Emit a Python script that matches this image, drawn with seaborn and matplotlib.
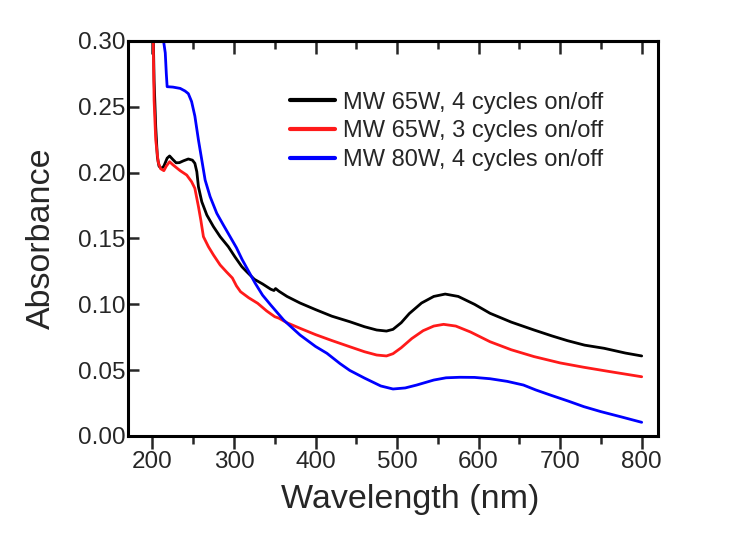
import matplotlib
matplotlib.use("Agg")
import matplotlib.pyplot as plt
from matplotlib.ticker import MultipleLocator, FormatStrFormatter
import seaborn as sns
import pandas as pd

labels = ["MW 65W, 4 cycles on/off", "MW 65W, 3 cycles on/off", "MW 80W, 4 cycles on/off"]
colors = ["#000000", "#ff1a1a", "#0000ff"]

wl_black = [200, 202, 204, 206, 208, 211, 214, 218, 221, 225, 229, 233, 238, 244, 249, 252, 254.4, 256.4,
            260.5, 266.7, 274.8, 283, 293, 301, 309.6, 316, 325, 335, 345, 349, 351, 355, 365, 381, 400,
            420, 442, 460, 475, 487, 495, 505, 515, 530, 545, 559, 575, 595, 614, 640, 668, 690, 709, 730,
            754, 780, 800]
ab_black = [0.34, 0.27, 0.235, 0.212, 0.205, 0.203, 0.205, 0.211, 0.2127, 0.210, 0.2075, 0.2076, 0.209,
            0.2104, 0.2095, 0.2071, 0.2007, 0.1893, 0.1779, 0.1678, 0.159, 0.1514, 0.1438, 0.1362, 0.1286,
            0.1245, 0.119, 0.1155, 0.1115, 0.1105, 0.112, 0.110, 0.106, 0.101, 0.096, 0.091, 0.0868, 0.083,
            0.0805, 0.0797, 0.081, 0.086, 0.093, 0.101, 0.106, 0.1078, 0.106, 0.100, 0.0932, 0.0865, 0.0805,
            0.076, 0.0724, 0.069, 0.0666, 0.063, 0.0608]

wl_red = [200, 202, 204, 207, 210, 214, 217, 221, 225, 234, 242, 248, 252, 256.4, 259.3, 262.5, 268.6,
          274.8, 283, 291, 298, 303, 308, 318, 329, 340, 350, 355, 365, 381, 400, 420, 442, 460, 475, 487,
          495, 505, 518, 532, 545, 557, 572, 590, 614, 640, 668, 700, 729, 760, 800]
ab_red = [0.34, 0.255, 0.225, 0.208, 0.203, 0.2015, 0.205, 0.2083, 0.206, 0.2015, 0.1982, 0.1931, 0.1881,
          0.1742, 0.164, 0.1514, 0.1438, 0.1375, 0.1299, 0.1245, 0.120, 0.114, 0.1096, 0.105, 0.1008,
          0.095, 0.0906, 0.0895, 0.086, 0.0818, 0.077, 0.0725, 0.0678, 0.064, 0.0615, 0.0608, 0.0625,
          0.067, 0.074, 0.080, 0.0835, 0.0848, 0.0835, 0.079, 0.0716, 0.0655, 0.0603, 0.0555, 0.0522,
          0.049, 0.045]

wl_blue = [212, 213.6, 215.7, 217, 218, 225, 234, 240, 244, 248, 252, 256.4, 260.5, 264.6, 270.7, 278.9,
           287, 295.2, 303, 310, 318, 326, 335, 345, 361, 381, 400, 414, 430, 442, 460, 480, 495, 510, 524,
           545, 560, 577, 595, 614, 635, 655, 670, 688, 710, 729, 750, 775, 800]
ab_blue = [0.33, 0.30, 0.291, 0.275, 0.2653, 0.265, 0.264, 0.262, 0.260, 0.254, 0.243, 0.2248, 0.2096,
           0.1944, 0.1818, 0.1691, 0.1602, 0.1514, 0.143, 0.134, 0.125, 0.116, 0.107, 0.0995, 0.088,
           0.0767, 0.068, 0.0628, 0.055, 0.0498, 0.044, 0.038, 0.0357, 0.0365, 0.0387, 0.0425, 0.0442,
           0.0446, 0.0445, 0.0435, 0.0415, 0.0387, 0.035, 0.0311, 0.0265, 0.0223, 0.0185, 0.0145, 0.0104]

frames = []
for lab, wl, ab in zip(labels, [wl_black, wl_red, wl_blue], [ab_black, ab_red, ab_blue]):
    frames.append(pd.DataFrame({"Wavelength": wl, "Absorbance": ab, "Sample": lab}))
df = pd.concat(frames, ignore_index=True)

sns.set_style("ticks")
plt.rcParams["font.family"] = ["Liberation Sans", "DejaVu Sans"]

fig = plt.figure(figsize=(7.5, 5.45), dpi=100)
ax = fig.add_axes([128 / 750, (545 - 436) / 545, 530 / 750, 395 / 545])

sns.lineplot(data=df, x="Wavelength", y="Absorbance", hue="Sample", hue_order=labels,
             palette=colors, sort=False, estimator=None, linewidth=2.0, ax=ax)

ax.set_xlim(170, 820)
ax.set_ylim(0, 0.30)
ax.xaxis.set_major_locator(MultipleLocator(100))
ax.xaxis.set_minor_locator(MultipleLocator(50))
ax.yaxis.set_major_locator(MultipleLocator(0.05))
ax.yaxis.set_major_formatter(FormatStrFormatter("%.2f"))

for s in ax.spines.values():
    s.set_visible(True)
    s.set_linewidth(2.2)
    s.set_color("black")

ax.tick_params(axis="x", which="major", direction="out", length=9, width=1.8, labelsize=17.5, pad=2,
               top=False, bottom=True)
ax.tick_params(axis="x", which="minor", direction="out", length=6, width=1.8, top=False, bottom=True)
ax.tick_params(axis="y", which="major", direction="in", length=8, width=1.8, labelsize=17.5, pad=2,
               left=True, right=False)

# top axis: inward ticks, no labels
sec = ax.secondary_xaxis("top")
sec.xaxis.set_major_locator(MultipleLocator(100))
sec.xaxis.set_minor_locator(MultipleLocator(50))
sec.tick_params(axis="x", which="major", direction="in", length=9, width=1.8, labeltop=False)
sec.tick_params(axis="x", which="minor", direction="in", length=6, width=1.8)
sec.spines["top"].set_linewidth(2.2)

ax.set_xlabel("Wavelength (nm)", fontsize=24.5, labelpad=11)
ax.xaxis.set_label_coords(0.532, -0.122)
ax.xaxis.label.set_va("top")
ax.set_ylabel("Absorbance", fontsize=24.5, labelpad=15)

leg = ax.legend(loc="upper left", bbox_to_anchor=(0.305, 0.872), frameon=False, fontsize=17,
                handlelength=1.9, handletextpad=0.35, labelspacing=0.28, borderaxespad=0, borderpad=0)
for line in leg.get_lines():
    line.set_linewidth(3)

fig.savefig("out.png", dpi=100)
